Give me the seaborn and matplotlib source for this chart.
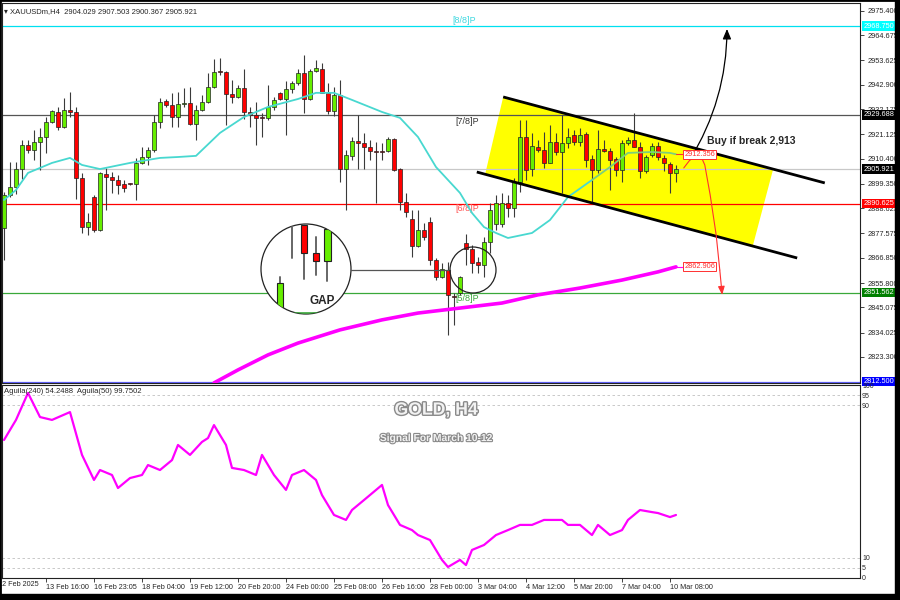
import numpy as np
import matplotlib
matplotlib.use("Agg")
import matplotlib.pyplot as plt
import matplotlib.patheffects as pe
import matplotlib.transforms as mtransforms
from matplotlib.patches import Polygon, Circle, Rectangle
from matplotlib.lines import Line2D
import seaborn as sns

# ---------------- data ----------------
# XAUUSD H4 candles, bar index 0..112
opens = [2880.0, 2894.5, 2898.2, 2905.8, 2916.5, 2914.3, 2917.9, 2920.2, 2926.8, 2931.2,
         2924.3, 2931.9, 2931.2, 2901.8, 2880.6, 2893.8, 2879.1, 2903.7, 2902.3, 2901.0,
         2899.4, 2899.4, 2899.4, 2908.7, 2911.4, 2914.3, 2926.8, 2936.0, 2934.1, 2929.0,
         2934.5, 2935.1, 2925.7, 2931.9, 2935.5, 2942.1, 2948.7, 2948.7, 2938.9, 2937.7,
         2941.4, 2931.2, 2929.7, 2928.5, 2928.4, 2933.3, 2939.2, 2936.6, 2940.9, 2943.9,
         2948.0, 2936.6, 2949.2, 2949.8, 2939.5, 2931.6, 2938.5, 2905.8, 2911.7, 2918.4,
         2917.2, 2915.5, 2913.9, 2913.6, 2913.9, 2919.0, 2905.8, 2891.6, 2883.8, 2872.1,
         2879.1, 2882.8, 2865.9, 2858.6, 2861.5, 2850.2, 2851.3, 2873.6, 2870.6, 2865.2,
         2863.7, 2874.0, 2881.8, 2881.8, 2890.9, 2888.7, 2900.4, 2920.2, 2905.8, 2915.8,
         2914.3, 2908.7, 2918.0, 2913.6, 2917.2, 2920.9, 2918.0, 2921.2, 2910.2, 2905.5,
         2914.6, 2913.9, 2910.2, 2905.5, 2917.2, 2918.7, 2915.8, 2905.2, 2912.0, 2916.0,
         2910.6, 2908.1, 2904.029]
highs = [2896.0, 2909.2, 2909.2, 2918.7, 2918.7, 2923.1, 2923.8, 2929.0, 2931.9, 2933.3,
         2937.0, 2939.9, 2933.3, 2904.0, 2886.5, 2894.5, 2904.8, 2906.2, 2904.8, 2903.3,
         2901.0, 2899.8, 2910.6, 2915.5, 2915.8, 2929.7, 2937.0, 2936.5, 2939.5, 2939.6,
         2941.4, 2942.1, 2934.1, 2938.5, 2948.0, 2954.2, 2954.6, 2948.9, 2945.1, 2942.9,
         2949.7, 2933.3, 2935.5, 2930.7, 2942.9, 2937.7, 2939.9, 2944.8, 2944.8, 2949.7,
         2956.1, 2949.7, 2953.9, 2952.4, 2943.6, 2942.1, 2945.1, 2914.3, 2920.2, 2929.7,
         2921.6, 2918.7, 2918.0, 2917.2, 2920.2, 2919.4, 2906.2, 2895.3, 2887.9, 2887.9,
         2882.1, 2885.0, 2866.7, 2864.5, 2865.2, 2851.3, 2858.9, 2877.4, 2872.5, 2867.4,
         2876.2, 2890.9, 2894.5, 2895.5, 2894.5, 2902.0, 2927.5, 2927.5, 2921.6, 2918.7,
         2922.3, 2925.3, 2921.6, 2929.7, 2924.0, 2923.1, 2924.0, 2922.3, 2912.0, 2923.1,
         2918.7, 2915.0, 2911.0, 2918.7, 2920.2, 2930.4, 2918.0, 2912.0, 2917.2, 2917.9,
         2912.0, 2909.0, 2907.503]
lows = [2866.0, 2893.8, 2895.0, 2901.4, 2912.8, 2909.9, 2905.5, 2912.8, 2926.0, 2923.1,
        2923.8, 2929.0, 2892.6, 2878.0, 2876.9, 2878.4, 2878.8, 2888.0, 2895.2, 2895.0,
        2896.0, 2898.9, 2892.3, 2908.0, 2907.7, 2913.6, 2923.8, 2933.3, 2924.3, 2924.3,
        2933.3, 2925.3, 2918.7, 2931.5, 2934.8, 2941.4, 2947.3, 2925.3, 2934.8, 2937.0,
        2927.9, 2924.3, 2916.5, 2919.9, 2927.5, 2931.9, 2936.3, 2920.9, 2939.2, 2942.9,
        2930.7, 2936.3, 2948.7, 2939.2, 2930.0, 2929.2, 2900.4, 2888.0, 2909.9, 2905.8,
        2905.8, 2909.9, 2890.9, 2909.9, 2913.6, 2905.2, 2887.9, 2884.7, 2867.4, 2871.8,
        2874.7, 2863.7, 2857.1, 2857.9, 2833.0, 2837.4, 2850.6, 2863.7, 2860.1, 2860.4,
        2858.3, 2869.2, 2879.3, 2880.6, 2885.0, 2885.0, 2896.0, 2901.0, 2903.0, 2913.6,
        2906.2, 2908.4, 2912.0, 2895.3, 2915.0, 2916.5, 2916.0, 2907.0, 2891.6, 2904.0,
        2913.6, 2896.7, 2903.0, 2900.0, 2916.5, 2915.5, 2902.0, 2904.0, 2911.0, 2909.9,
        2905.0, 2895.3, 2900.367]
closes = [2894.5, 2898.2, 2905.8, 2916.5, 2914.3, 2917.9, 2920.2, 2926.8, 2931.6, 2924.3,
          2931.9, 2931.2, 2901.8, 2880.6, 2882.8, 2879.1, 2904.0, 2902.3, 2901.0, 2898.9,
          2897.5, 2899.3, 2908.7, 2911.4, 2914.3, 2926.8, 2935.5, 2934.1, 2929.0, 2934.5,
          2934.8, 2925.7, 2931.9, 2935.5, 2942.1, 2948.7, 2948.5, 2938.9, 2937.7, 2941.4,
          2931.2, 2929.7, 2928.2, 2928.3, 2933.3, 2936.3, 2936.6, 2940.9, 2943.9, 2948.0,
          2936.6, 2949.2, 2950.2, 2939.5, 2931.6, 2938.5, 2905.8, 2912.0, 2918.4, 2917.2,
          2915.5, 2913.9, 2913.4, 2913.3, 2919.0, 2905.5, 2891.6, 2887.2, 2872.1, 2879.1,
          2876.2, 2865.9, 2858.6, 2861.8, 2850.6, 2849.6, 2858.3, 2870.6, 2864.8, 2863.7,
          2874.0, 2887.9, 2890.9, 2890.9, 2888.7, 2900.4, 2920.2, 2905.5, 2916.0, 2914.3,
          2908.7, 2918.0, 2913.6, 2917.2, 2920.2, 2918.0, 2920.9, 2909.9, 2905.5, 2914.6,
          2913.9, 2909.9, 2905.5, 2917.2, 2918.7, 2915.8, 2905.2, 2911.4, 2916.0, 2911.4,
          2908.4, 2904.0, 2905.921]

# moving averages (bar index, price)
ma_fast_bar = [0, 2, 4, 8, 11, 13, 16, 21, 26, 29, 32, 36, 40, 44, 49, 52, 55, 58, 63, 66,
               69, 72, 76, 78, 80, 82, 84, 88, 91, 94, 98, 101, 104, 108, 111, 112]
ma_fast_val = [2892.3, 2896.7, 2904.2, 2908.6, 2910.8, 2907.7, 2905.9, 2908.6, 2910.8, 2911.2,
               2911.7, 2921.8, 2928.8, 2933.2, 2936.7, 2939.4, 2939.4, 2936.3, 2931.0, 2928.4,
               2920.0, 2906.8, 2895.4, 2886.6, 2880.4, 2877.8, 2875.6, 2877.8, 2883.5, 2893.6,
               2901.1, 2906.8, 2913.0, 2913.4, 2913.0, 2912.4]
ma_slow_bar = [35, 39, 44, 49, 56, 63, 69, 76, 83, 89, 96, 103, 109, 112]
ma_slow_val = [2811.9, 2817.6, 2824.2, 2829.4, 2835.2, 2839.6, 2842.6, 2844.8, 2847.0, 2850.6,
               2853.6, 2857.1, 2860.7, 2862.9]

# Aguila oscillator (lower panel)
osc_bar = [0, 2, 4, 6, 8, 11, 13, 15, 16, 18, 19, 21, 23, 24, 26, 28, 29, 31, 33, 34,
           35, 37, 38, 40, 42, 43, 45, 47, 48, 50, 52, 53, 55, 57, 58, 60, 63, 64, 66, 68,
           69, 71, 73, 74, 76, 77, 78, 80, 82, 84, 86, 88, 90, 93, 94, 96, 98, 99, 101, 103,
           104, 106, 108, 109, 111, 112]
osc_val = [71.7, 82.2, 96.3, 83.7, 82.2, 86.3, 63.9, 50.8, 56.0, 53.4, 46.6, 51.8, 53.4, 58.6,
           56.0, 61.2, 69.1, 63.9, 70.7, 72.7, 79.5, 69.1, 57.1, 56.0, 53.4, 63.9, 53.4, 45.6,
           53.4, 56.0, 50.8, 42.9, 32.5, 29.9, 35.1, 40.3, 48.2, 37.7, 27.3, 24.6, 22.0, 19.4,
           9.0, 5.3, 9.0, 6.3, 14.2, 16.8, 22.0, 24.6, 27.3, 27.3, 29.9, 29.9, 27.3, 27.3,
           22.0, 27.3, 22.0, 24.6, 29.9, 35.1, 34.0, 33.5, 31.4, 32.5]

# time axis
tick_bars = [7, 15, 23, 31, 39, 47, 55, 63, 71, 79, 87, 95, 103, 111]
tick_labels = ["13 Feb 16:00", "16 Feb 23:05", "18 Feb 04:00", "19 Feb 12:00", "20 Feb 20:00",
               "24 Feb 00:00", "25 Feb 08:00", "26 Feb 16:00", "28 Feb 00:00", "3 Mar 04:00",
               "4 Mar 12:00", "5 Mar 20:00", "7 Mar 04:00", "10 Mar 08:00"]
first_label = "12 Feb 2025"

# price scale
price_ticks = [2975.400, 2964.675, 2953.625, 2942.900, 2932.175, 2921.125, 2910.400, 2899.350,
               2888.625, 2877.575, 2866.850, 2855.800, 2845.075, 2834.025, 2823.300]

# Murrey levels
level_price = [2968.750, 2929.688, 2890.625, 2851.562, 2812.500]
level_color = ["#00e0f0", "#555555", "#ff0000", "#3aa83a", "#6060ff"]
level_tag = ["#00ffff", "#000000", "#ff0000", "#008000", "#0000ff"]
last_price = 2905.921

# channel drawing (bar index, price)
chan_upper = ([83.2, 136.8], [2937.6, 2899.8])
chan_lower = ([78.8, 132.2], [2904.6, 2866.8])
chan_fill = [(83.2, 2937.6), (128.2, 2905.9), (124.8, 2872.1), (80.2, 2903.7)]
red_path_bar = [113.3, 114.7, 116.0, 116.8, 117.7, 118.7, 119.3]
red_path_val = [2906.4, 2911.2, 2912.5, 2907.7, 2894.5, 2876.9, 2861.5]

# ---------------- figure ----------------
sns.set_style("white")
plt.rcParams["font.family"] = ["Liberation Sans", "DejaVu Sans"]

fig = plt.figure(figsize=(9, 6), dpi=100)
ax = fig.add_axes([2 / 900, 1 - 383 / 600, 858 / 900, 380 / 600])
ax2 = fig.add_axes([2 / 900, 22 / 600, 858 / 900, 193 / 600])

ax.set_xlim(-0.333, 142.67)
ax.set_ylim(2811.85, 2978.9)
ax2.set_xlim(-0.333, 142.67)
ax2.set_ylim(-0.46, 100.46)

# channel fill
ax.add_patch(Polygon(chan_fill, closed=True, facecolor="#ffff00", edgecolor="none", zorder=1))

# horizontal levels
for p, col in zip(level_price, level_color):
    ax.axhline(p, color=col, lw=0.9, zorder=1.5)
ax.axhline(last_price, color="#c8c8c8", lw=0.9, zorder=1.5)
ax.text(74.7, 2971.4, "[8/8]P", color="#40d8e0", fontsize=6.5, va="center", zorder=2)
ax.text(75.2, 2927.0, "[7/8]P", color="#333333", fontsize=6.5, va="center", zorder=2)
ax.text(75.2, 2888.6, "[6/8]P", color="#ff5050", fontsize=6.5, va="center", zorder=2)
ax.text(75.2, 2849.2, "[5/8]P", color="#3aa83a", fontsize=6.5, va="center", zorder=2)

# candles
idx = np.arange(len(closes))
o = np.array(opens)
c = np.array(closes)
up = c >= o
body_lo = np.minimum(o, c)
body_h = np.maximum(np.abs(c - o), 0.4)
ax.vlines(idx, lows, highs, color="#3a3a3a", lw=0.8, zorder=3)
ax.bar(idx, body_h, bottom=body_lo, width=0.62,
       color=np.where(up, "#66ee00", "#ff0000"), edgecolor="#222222", linewidth=0.5, zorder=4)

# moving averages
fb = np.array(ma_fast_bar)
fv = np.array(ma_fast_val)
sns.lineplot(x=fb[fb <= 98], y=fv[fb <= 98], ax=ax, color="#48d8d0", lw=1.3, sort=False, zorder=5)
sns.lineplot(x=fb[fb >= 98], y=fv[fb >= 98], ax=ax, color="#7ccf7c", lw=1.3, sort=False, zorder=5)
sns.lineplot(x=ma_slow_bar, y=ma_slow_val, ax=ax, color="#ff00ff", lw=2.6, sort=False, zorder=5)

# channel lines
ax.plot(*chan_upper, color="black", lw=2, zorder=6, solid_capstyle="butt")
ax.plot(*chan_lower, color="black", lw=2, zorder=6, solid_capstyle="butt")

# arrows
ax.annotate("", xy=(120.5, 2967.5), xytext=(114.3, 2909.9),
            arrowprops=dict(arrowstyle="-|>,head_length=0.6,head_width=0.25", color="black",
                            lw=0.9, connectionstyle="arc3,rad=0.14", shrinkA=0, shrinkB=0),
            zorder=7)
ax.plot(red_path_bar, red_path_val, color="#ff3030", lw=0.8, zorder=7)
ax.annotate("", xy=(119.7, 2850.6), xytext=(119.3, 2861.5),
            arrowprops=dict(arrowstyle="-|>,head_length=0.5,head_width=0.2", color="#ff3030",
                            lw=0.8, shrinkA=0, shrinkB=0), zorder=7)
ax.text(117.2, 2918.3, "Buy if break 2,913", fontsize=7.5, fontweight="bold", va="center", zorder=8)

# in-chart price tags
ax.plot([112, 113.3], [2912.356, 2912.356], color="#ff3030", lw=0.8, zorder=7)
ax.text(113.4, 2912.356, "2912.356", color="#ff3030", fontsize=5.3, va="center", zorder=8,
        bbox=dict(boxstyle="square,pad=0.15", facecolor="white", edgecolor="#ff3030", lw=0.7))
ax.plot([112, 113.3], [2862.906, 2862.906], color="#ff00ff", lw=0.8, zorder=7)
ax.text(113.4, 2862.906, "2862.906", color="#ff3030", fontsize=5.3, va="center", zorder=8,
        bbox=dict(boxstyle="square,pad=0.15", facecolor="white", edgecolor="#ff3030", lw=0.7))

# right price scale
ax.yaxis.tick_right()
ax.set_yticks(price_ticks)
ax.set_yticklabels([f"{v:.3f}" for v in price_ticks])
ax.tick_params(axis="y", right=True, length=3, width=0.6, pad=2.5, labelsize=5.3, direction="out")
ax.set_xticks([])
tr = mtransforms.blended_transform_factory(ax.transAxes, ax.transData)
for p, col in zip(level_price + [last_price], level_tag + ["#000000"]):
    ax.text(1.004, p, f"{p:.3f}", transform=tr, color="white", fontsize=5.3, va="center",
            ha="left", clip_on=False, zorder=20,
            bbox=dict(boxstyle="square,pad=0.15", facecolor=col, edgecolor="none"))

ax.text(0.002, 0.988, "\u25be XAUUSDm,H4  2904.029 2907.503 2900.367 2905.921", transform=ax.transAxes,
        fontsize=5.5, va="top", ha="left")

# lower panel
for lv in [95, 90, 10, 5]:
    ax2.axhline(lv, color="#c0c0c0", lw=0.6, ls=(0, (3, 3)), zorder=1)
sns.lineplot(x=osc_bar, y=osc_val, ax=ax2, color="#ff00ff", lw=1.6, sort=False, zorder=3)
ax2.yaxis.tick_right()
ax2.set_yticks([0, 5, 10, 90, 95, 100])
ax2.set_yticklabels(["0", "5", "10", "90", "95", "100"])
ax2.tick_params(axis="y", right=True, length=0, pad=1.5, labelsize=5)
ax2.set_xticks(tick_bars)
ax2.set_xticklabels(tick_labels)
ax2.tick_params(axis="x", bottom=True, length=3, width=0.6, pad=1, labelsize=5.2, direction="out")
for lbl in ax2.get_xticklabels():
    lbl.set_horizontalalignment("left")
ax2.text(-1, -0.015, first_label,
         transform=mtransforms.blended_transform_factory(ax2.transData, ax2.transAxes),
         fontsize=5.2, ha="left", va="top", clip_on=False)
ax2.text(0.002, 0.965, "Aguila(240) 54.2488  Aguila(50) 99.7502", transform=ax2.transAxes,
         fontsize=5.5, va="center", ha="left")
ax2.text(0.506, 0.87, "GOLD, H4", transform=ax2.transAxes, fontsize=12.7, fontweight="bold",
         color="#f2f2f2", ha="center", va="center",
         path_effects=[pe.withStroke(linewidth=2.0, foreground="#8a8a8a")])
ax2.text(0.506, 0.725, "Signal For March 10-12", transform=ax2.transAxes, fontsize=7.4,
         fontweight="bold", color="#f2f2f2", ha="center", va="center",
         path_effects=[pe.withStroke(linewidth=1.6, foreground="#8a8a8a")])

for a in (ax, ax2):
    for s in a.spines.values():
        s.set_color("#222222")
        s.set_linewidth(0.8)
    a.set_xlabel("")
    a.set_ylabel("")

# GAP magnifier (drawn in pixel space)
T = fig.dpi_scale_trans


def P(x, y):
    return (x / 100, (600 - y) / 100)


big = Circle(P(306, 269), 0.45, transform=T, facecolor="white", edgecolor="#222222", lw=0.9, zorder=10)
fig.add_artist(big)
inset = [
    Line2D([2.923, 2.923], [6 - 2.22, 6 - 2.58], color="#666666", lw=1.4),
    Line2D([3.037, 3.037], [6 - 2.22, 6 - 2.79], color="#666666", lw=1.4),
    Line2D([3.158, 3.158], [6 - 2.37, 6 - 2.75], color="#666666", lw=1.4),
    Line2D([3.273, 3.273], [6 - 2.25, 6 - 2.81], color="#666666", lw=1.4),
    Line2D([2.80, 2.80], [6 - 2.77, 6 - 2.83], color="#666666", lw=1.4),
    Line2D([2.83, 3.50], [6 - 3.13, 6 - 3.13], color="#3aa83a", lw=1.2),
    Rectangle(P(300.7, 253), 0.06, 0.28, facecolor="#ff0000", edgecolor="#222222", lw=0.8),
    Rectangle(P(312.7, 261), 0.063, 0.08, facecolor="#ff0000", edgecolor="#222222", lw=0.8),
    Rectangle(P(324.0, 261), 0.067, 0.32, facecolor="#66ee00", edgecolor="#222222", lw=0.8),
    Rectangle(P(276.7, 312), 0.066, 0.29, facecolor="#66ee00", edgecolor="#222222", lw=0.8),
]
for art in inset:
    art.set_transform(T)
    art.set_zorder(11)
    art.set_clip_path(big)
    fig.add_artist(art)
fig.text(3.22 / 9, (600 - 301) / 600, "GAP", fontsize=8.5, fontweight="bold", ha="center",
         va="center", zorder=12)
fig.add_artist(Line2D([3.51, 4.50], [6 - 2.70, 6 - 2.70], transform=T, color="#555555", lw=0.9, zorder=10))
fig.add_artist(Circle(P(473, 270), 0.23, transform=T, facecolor="none", edgecolor="#222222",
                      lw=0.9, zorder=10))

# window frame
fig.add_artist(Rectangle((0, 0), 1, 1, transform=fig.transFigure, fill=False, edgecolor="black", lw=2))
fig.add_artist(Rectangle((895 / 900, 0), 5 / 900, 1, transform=fig.transFigure, color="black"))
fig.add_artist(Rectangle((0, 0), 1, 6 / 600, transform=fig.transFigure, color="black"))

fig.savefig("out.png", dpi=100)
